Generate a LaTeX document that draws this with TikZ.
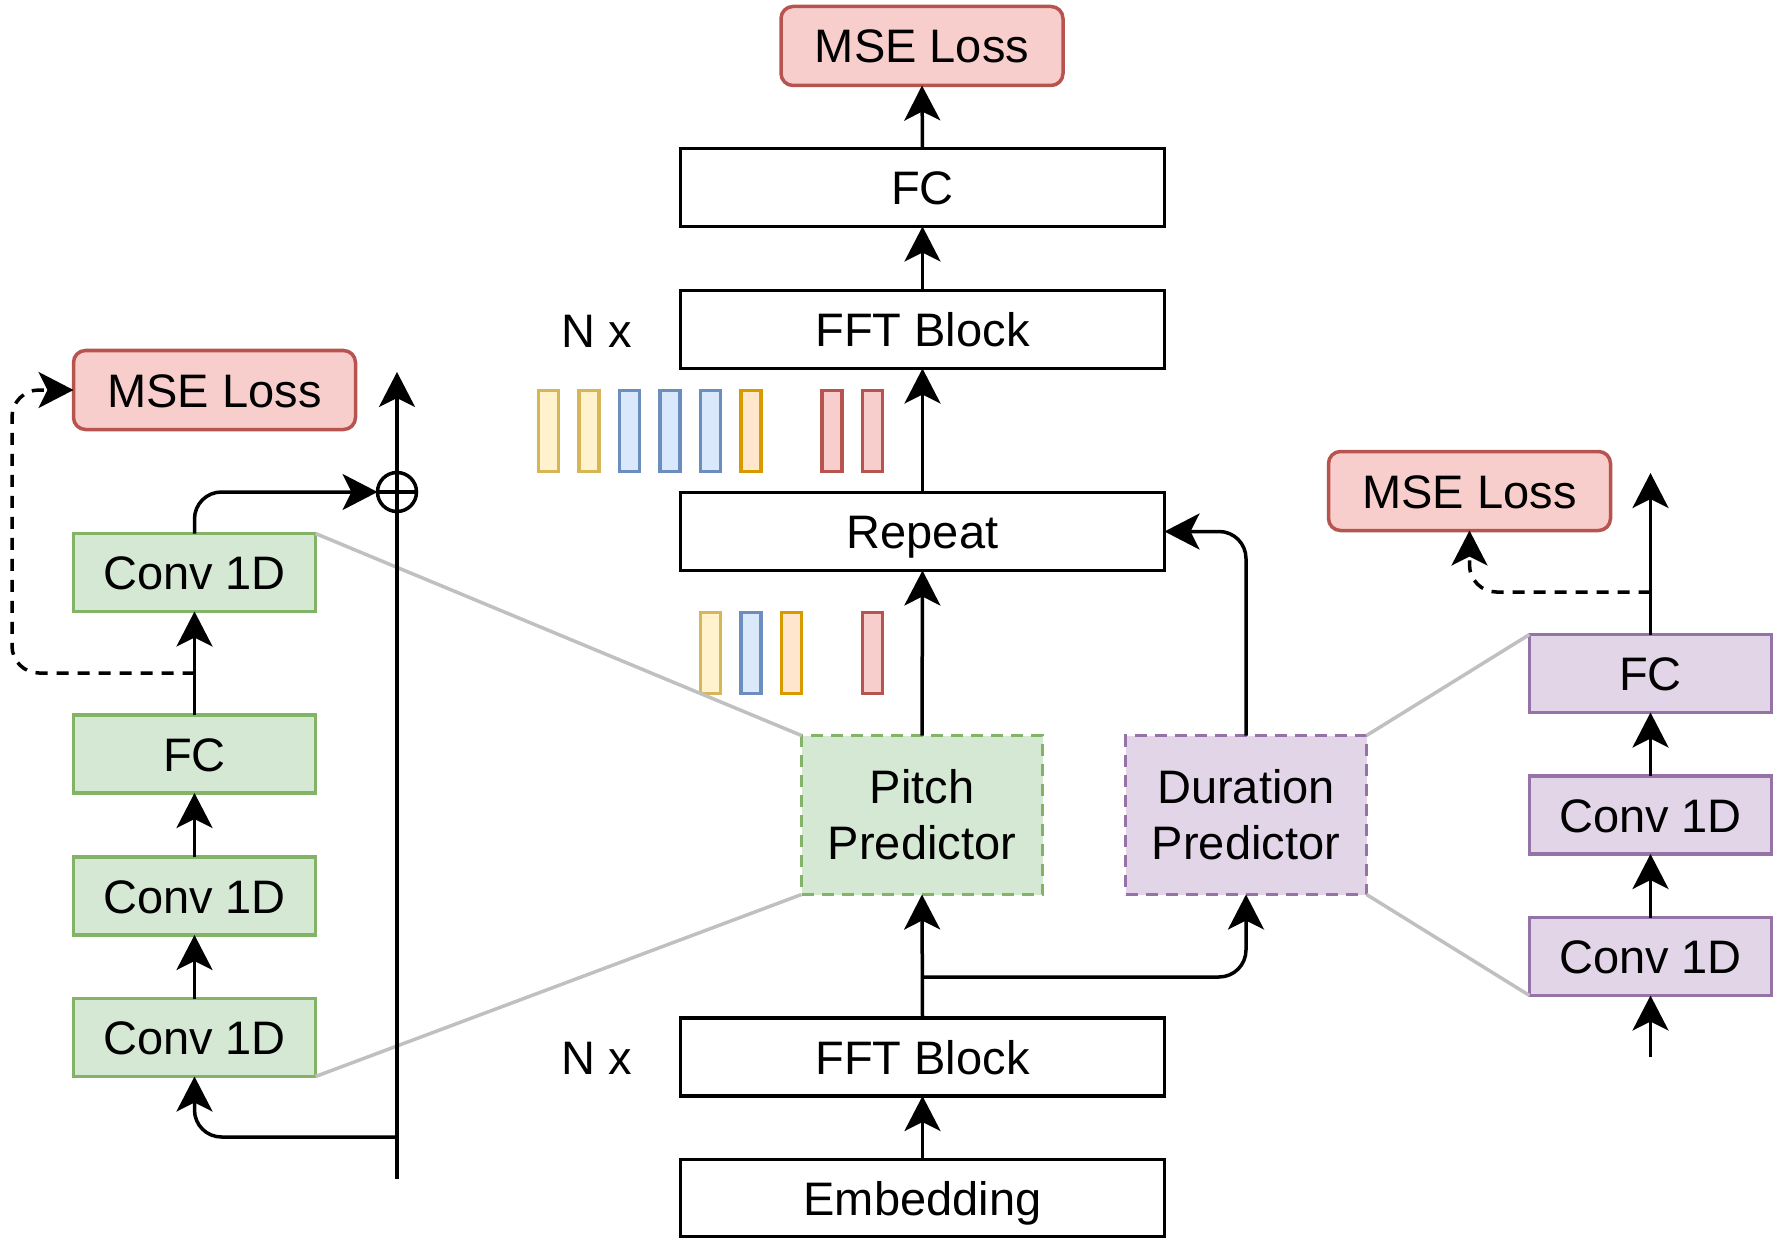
\documentclass[tikz,border=0pt]{standalone}
\usepackage{fontspec}
\setmainfont{Liberation Sans}
\usetikzlibrary{arrows.meta}
\definecolor{grnF}{HTML}{D5E8D4}\definecolor{grnD}{HTML}{82B366}
\definecolor{purF}{HTML}{E1D5E7}\definecolor{purD}{HTML}{9673A6}
\definecolor{redF}{HTML}{F8CECC}\definecolor{redD}{HTML}{B85450}
\definecolor{yelF}{HTML}{FFF2CC}\definecolor{yelD}{HTML}{D6B656}
\definecolor{bluF}{HTML}{DAE8FC}\definecolor{bluD}{HTML}{6C8EBF}
\definecolor{orgF}{HTML}{FFE6CC}\definecolor{orgD}{HTML}{D79B00}
\definecolor{grayL}{HTML}{C0C0C0}
\begin{document}
\begin{tikzpicture}[x=1pt,y=-1pt,
  every node/.style={font=\fontsize{47}{56}\selectfont, inner sep=0pt, outer sep=0pt},
  oneline/.style={text height=34pt, text depth=0pt},
  plain/.style={oneline, draw=black, line width=3.5pt, fill=white, minimum width=484pt, minimum height=78pt},
  loss/.style={oneline, draw=redD, fill=redF, line width=3.5pt, rounded corners=12pt, minimum width=282pt, minimum height=79pt},
  gbox/.style={oneline, draw=grnD, fill=grnF, line width=3.5pt, minimum width=242pt, minimum height=78pt},
  vbox/.style={oneline, draw=purD, fill=purF, line width=3.5pt, minimum width=242pt, minimum height=78pt},
  pred/.style={line width=3.5pt, dash pattern=on 12pt off 8pt, minimum width=241pt, minimum height=159pt, align=center},
  conn/.style={line width=3.5pt, rounded corners=27pt, -{Stealth[length=35pt,width=36pt,inset=9pt]}},
  dconn/.style={conn, dash pattern=on 12pt off 9pt},
  zoomline/.style={draw=grayL, line width=3.5pt},
  bar/.style={line width=3.5pt, minimum width=20pt, minimum height=81pt},
  sumnode/.style={circle, draw=black, line width=3.5pt, fill=white, minimum size=39pt}
]
\useasboundingbox (0,0) rectangle (1778,1249);

% ---- centre column
\node[loss]  (mseT) at (922,46) {MSE Loss};
\node[plain] (fcT)  at (922.5,187.5) {FC};
\node[plain] (fftT) at (922.5,329.5) {FFT Block};
\node[oneline] (nxT)  at (597,331) {N x};
\node[plain] (rep)  at (922.5,531.5) {Repeat};
\node[pred, draw=grnD, fill=grnF] (pitch) at (922,815) {Pitch\\Predictor};
\node[pred, draw=purD, fill=purF] (dur)   at (1246,815) {Duration\\Predictor};
\node[plain] (fftB) at (922.5,1057) {FFT Block};
\node[oneline] (nxB)  at (597,1057) {N x};
\node[plain, minimum height=77pt] (emb) at (922.5,1198) {Embedding};

% ---- bars
\foreach \k/\c [count=\i] in {0/yel,1/yel,2/blu,3/blu,4/blu,5/org,7/red,8/red}
  \node[bar, draw=\c D, fill=\c F] (tb\i) at ({548.5+40.5*\k},431) {};
\foreach \k/\c [count=\i] in {4/yel,5/blu,6/org,8/red}
  \node[bar, draw=\c D, fill=\c F] (bb\i) at ({548.5+40.5*\k},653) {};

% ---- left column
\node[loss] (lmse) at (214.5,390) {MSE Loss};
\node[gbox] (lc1)  at (194.5,572.5) {Conv 1D};
\node[gbox] (lfc)  at (194.5,754) {FC};
\node[gbox] (lc2)  at (194.5,896) {Conv 1D};
\node[gbox] (lc3)  at (194.5,1037.5) {Conv 1D};
\coordinate (lbot) at (397,1179);
\coordinate (ltop) at (397,372);
\coordinate (ljoin) at (397,1137);
\coordinate (lsplit) at (194.5,673);
\coordinate (lc1up) at (194.5,492);

% ---- right column
\node[loss] (rmse) at (1469.5,491) {MSE Loss};
\node[vbox] (rfc)  at (1650.5,673.5) {FC};
\node[vbox] (rc1)  at (1650.5,815) {Conv 1D};
\node[vbox] (rc2)  at (1650.5,956.5) {Conv 1D};
\coordinate (rin)  at (1650.5,1057);
\coordinate (rout) at (1650.5,473);
\coordinate (rsplit) at (1650.5,592);

% ---- zoom lines
\draw[zoomline] (lc1.north east) -- (pitch.north west);
\draw[zoomline] (lc3.south east) -- (pitch.south west);
\draw[zoomline] (dur.north east) -- (rfc.north west);
\draw[zoomline] (dur.south east) -- (rc2.south west);

% ---- centre connectors
\draw[conn] (emb.north) -- (fftB.south);
\draw[conn] (fftB.north) -- (pitch.south);
\coordinate (split) at (922,977);
\draw[conn] (split) -| (dur.south);
\draw[conn] (pitch.north) -- (rep.south);
\draw[conn] (rep.north) -- (fftT.south);
\draw[conn] (fftT.north) -- (fcT.south);
\draw[conn] (fcT.north) -- (mseT.south);
\draw[conn] (dur.north) |- (rep.east);

% ---- left connectors
\node[sumnode] (sum) at (397,492) {};
\draw[line width=3.5pt] (sum.west) -- (sum.east);
\draw[conn] (lbot) -- (ltop);
\draw[conn] (ljoin) -| (lc3.south);
\draw[conn] (lc3.north) -- (lc2.south);
\draw[conn] (lc2.north) -- (lfc.south);
\draw[conn] (lfc.north) -- (lc1.south);
\draw[conn] (lc1.north) -- (lc1up) -- (sum.west);
\draw[dconn] (lsplit) -- (12,673) -- (12,390) -- (lmse.west);

% ---- right connectors
\draw[conn] (rin) -- (rc2.south);
\draw[conn] (rc2.north) -- (rc1.south);
\draw[conn] (rc1.north) -- (rfc.south);
\draw[conn] (rfc.north) -- (rout);
\draw[dconn] (rsplit) -| (rmse.south);
\end{tikzpicture}
\end{document}
